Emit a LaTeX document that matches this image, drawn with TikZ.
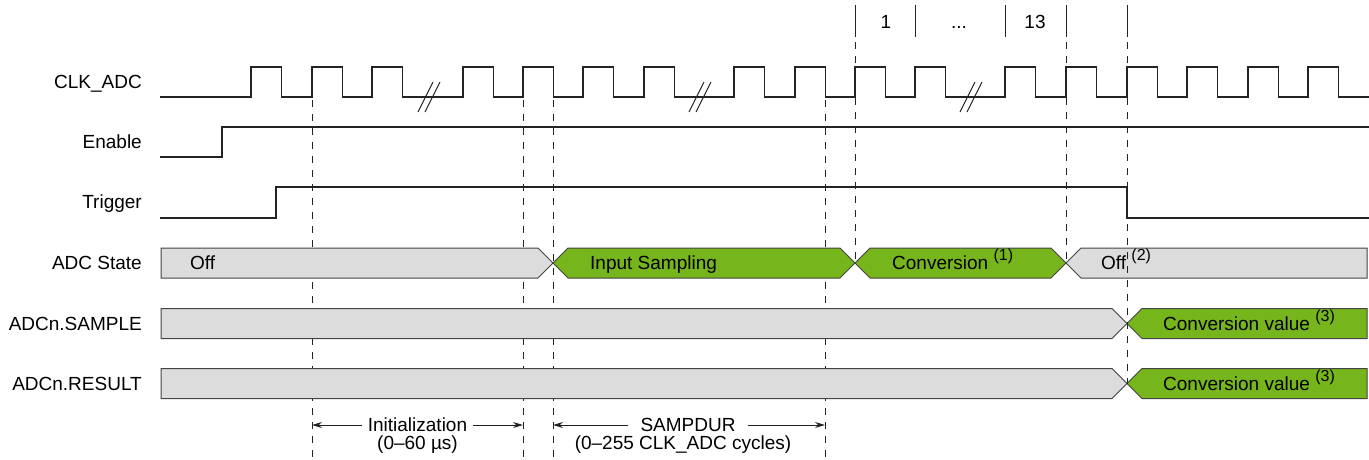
\documentclass[tikz,border=0pt]{standalone}
\usepackage{fontspec}
\setmainfont{Liberation Sans}
\usetikzlibrary{arrows.meta}
\definecolor{busgreen}{RGB}{118,181,28}
\definecolor{busgray}{RGB}{220,220,220}
\definecolor{wire}{RGB}{35,35,35}
\newcommand\supnote[1]{\raisebox{9pt}{\fontsize{16}{18}\selectfont(#1)}}
\begin{document}
\begin{tikzpicture}[x=1pt,y=-1pt,
  sig/.style={draw=wire,line width=1.2pt},
  brk/.style={draw=wire,line width=1pt},
  bus/.style={draw=wire!85,line width=1pt,line join=miter},
  guide/.style={draw=wire,line width=1pt,dash pattern=on 7pt off 7pt},
  tickline/.style={draw=wire,line width=1pt},
  txt/.style={font=\fontsize{19}{22}\selectfont,inner sep=0pt,text=black},
  rowlbl/.style={txt,anchor=base east},
  bartxt/.style={txt,anchor=base west},
  dim/.style={draw=wire,line width=1pt,-{Stealth[length=10pt,width=6pt]}}]
\useasboundingbox (0,0) rectangle (1369,459);

% guide lines (behind the buses)
\foreach \x in {312,523,553,825} \draw[guide] (\x,100) -- (\x,459);
\draw[guide] (855,42) -- (855,263);
\draw[guide] (1066,42) -- (1066,263);
\foreach \x in {855,915,1005,1066,1127} \draw[tickline] (\x,5) -- (\x,37);

% top cycle labels
\node[txt,anchor=base] (c1) at (886,28) {1};
\node[txt,anchor=base] (cdots) at (959,28) {...};
\node[txt,anchor=base] (c13) at (1035,28) {13};

% row labels
\node[rowlbl] (lclk) at (142,88.5) {CLK\_ADC};
\node[rowlbl] (len) at (142,148.5) {Enable};
\node[rowlbl] (ltrg) at (142,208.5) {Trigger};
\node[rowlbl] (lstate) at (142,269.5) {ADC State};
\node[rowlbl] (lsample) at (142,330) {ADCn.SAMPLE};
\node[rowlbl] (lresult) at (142,390) {ADCn.RESULT};

% CLK_ADC
\draw[sig] (160,97) foreach \r in {251,312,372,463,523,583,644,734,795,855,915,1005,1066,1127,1187,1248,1308}
  { -- (\r,97) -- (\r,67) -- ({\r+30.5},67) -- ({\r+30.5},97) } -- (1369,97);
\foreach \c in {429,700,971} {
  \draw[brk] ({\c-11},112) -- ({\c+4},82);
  \draw[brk] ({\c-4},112) -- ({\c+11},82);
}
% Enable
\draw[sig] (160,157) -- (222,157) -- (222,127) -- (1369,127);
% Trigger
\draw[sig] (160,218) -- (276,218) -- (276,187) -- (1127,187) -- (1127,218) -- (1369,218);

% ADC State
\path[bus,fill=busgray] (161,248) -- (538,248) -- (553,263) -- (538,278) -- (161,278) -- cycle;
\path[bus,fill=busgreen] (553,263) -- (568,248) -- (840,248) -- (855,263) -- (840,278) -- (568,278) -- cycle;
\path[bus,fill=busgreen] (855,263) -- (870,248) -- (1051,248) -- (1066,263) -- (1051,278) -- (870,278) -- cycle;
\path[bus,fill=busgray] (1066,263) -- (1081,248) -- (1367,248) -- (1367,278) -- (1081,278) -- cycle;
% ADCn.SAMPLE
\path[bus,fill=busgray] (161,308.5) -- (1112,308.5) -- (1127,323.5) -- (1112,338.5) -- (161,338.5) -- cycle;
\path[bus,fill=busgreen] (1127,323.5) -- (1142,308.5) -- (1367,308.5) -- (1367,338.5) -- (1142,338.5) -- cycle;
% ADCn.RESULT
\path[bus,fill=busgray] (161,368.5) -- (1112,368.5) -- (1127,383.5) -- (1112,398.5) -- (161,398.5) -- cycle;
\path[bus,fill=busgreen] (1127,383.5) -- (1142,368.5) -- (1367,368.5) -- (1367,398.5) -- (1142,398.5) -- cycle;

% guide over the buses
\draw[guide] (1127,42) -- (1127,383.5);

% bus texts
\node[bartxt] (toff) at (190,269.5) {Off};
\node[bartxt] (tsamp) at (590,269.5) {Input Sampling};
\node[bartxt] (tconv) at (892,269.5) {Conversion \supnote{1}};
\node[bartxt] (toff2) at (1101,269.5) {Off \supnote{2}};
\node[bartxt] (tsv) at (1163,330) {Conversion value \supnote{3}};
\node[bartxt] (trv) at (1163,390) {Conversion value \supnote{3}};

% dimension annotations
\coordinate (i1) at (312,425);
\coordinate (i2) at (523,425);
\node[txt,inner xsep=6pt] (init) at (417.5,425) {Initialization};
\node[txt,anchor=base] (initv) at (417.5,449.5) {(0–60 µs)};
\draw[dim] (init.west) -- (i1);
\draw[dim] (init.east) -- (i2);
\coordinate (s1) at (553,425);
\coordinate (s2) at (825,425);
\node[txt,inner xsep=12pt] (samp) at (688,425) {SAMPDUR};
\node[txt,anchor=base] (sampv) at (683,449.5) {(0–255 CLK\_ADC cycles)};
\draw[dim] (samp.west) -- (s1);
\draw[dim] (samp.east) -- (s2);
\end{tikzpicture}
\end{document}
